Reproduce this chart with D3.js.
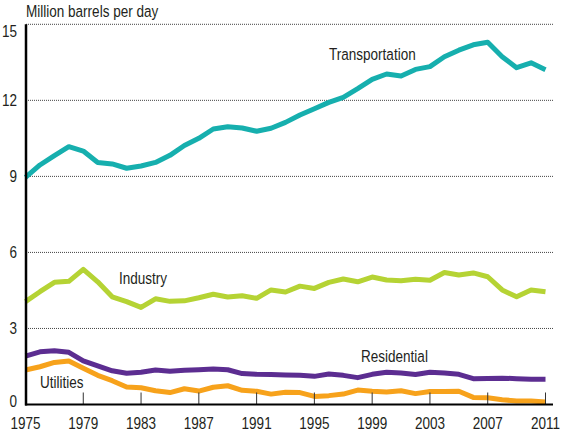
<!DOCTYPE html>
<html>
<head>
<meta charset="utf-8">
<script src="https://cdn.jsdelivr.net/npm/d3@7/dist/d3.min.js"></script>
<style>
  html, body { margin: 0; padding: 0; background: #fff; }
  svg text { font-family: "Liberation Sans", Arial, sans-serif; fill: #231f20; }
</style>
</head>
<body>
<svg id="chart" width="562" height="436"></svg>
<script>
// U.S. petroleum consumption by sector, million barrels per day
const years = d3.range(1975, 2012);

const transportation = [8.96, 9.45, 9.82, 10.17, 10.0, 9.55, 9.49, 9.32, 9.41, 9.55,
  9.83, 10.22, 10.5, 10.87, 10.96, 10.91, 10.78, 10.9, 11.13, 11.42,
  11.67, 11.92, 12.12, 12.46, 12.83, 13.04, 12.96, 13.22, 13.33, 13.72,
  13.98, 14.19, 14.29, 13.72, 13.29, 13.48, 13.21];

const industry = [4.06, 4.45, 4.82, 4.86, 5.33, 4.84, 4.25, 4.06, 3.83, 4.17,
  4.07, 4.09, 4.21, 4.35, 4.24, 4.29, 4.19, 4.52, 4.44, 4.67,
  4.58, 4.82, 4.95, 4.84, 5.03, 4.91, 4.88, 4.94, 4.9, 5.21,
  5.11, 5.19, 5.04, 4.52, 4.25, 4.52, 4.45];

const residential = [1.91, 2.08, 2.12, 2.06, 1.72, 1.52, 1.33, 1.23, 1.27, 1.36,
  1.31, 1.35, 1.37, 1.4, 1.37, 1.22, 1.19, 1.18, 1.16, 1.15,
  1.11, 1.2, 1.15, 1.06, 1.19, 1.27, 1.24, 1.18, 1.27, 1.24,
  1.19, 1.02, 1.03, 1.04, 1.02, 1.0, 1.0];

const utilities = [1.36, 1.49, 1.66, 1.72, 1.43, 1.15, 0.94, 0.69, 0.66, 0.54,
  0.47, 0.62, 0.53, 0.68, 0.74, 0.56, 0.52, 0.41, 0.48, 0.47,
  0.32, 0.35, 0.41, 0.57, 0.52, 0.49, 0.54, 0.43, 0.51, 0.51,
  0.52, 0.28, 0.27, 0.19, 0.14, 0.14, 0.1];

const yTicks = [0, 3, 6, 9, 12, 15];
const xTicks = [1975, 1979, 1983, 1987, 1991, 1995, 1999, 2003, 2007, 2011];

const series = [
  { name: "Utilities", values: utilities, color: "#f7a21b", label: [40, 388] },
  { name: "Residential", values: residential, color: "#5c2d91", label: [361, 362] },
  { name: "Industry", values: industry, color: "#b5d334", label: [119, 284] },
  { name: "Transportation", values: transportation, color: "#16afae", label: [329, 60] }
];

const svg = d3.select("#chart");
const left = 26, right = 553;
const fontSize = 16.5;
const narrow = 0.82; // horizontal condensing of all labels
const x = d3.scaleLinear().domain([1975, 2011]).range([25.5, 545.5]);
const y = d3.scaleLinear().domain([0, 15]).range([404.5, 24.3]);

// place a condensed text label with its anchor at (px, py)
function place(sel, px, py) {
  sel.attr("transform", (d, i) =>
    `translate(${typeof px === "function" ? px(d, i) : px},${typeof py === "function" ? py(d, i) : py}) scale(${narrow},1)`)
    .attr("font-size", fontSize);
  return sel;
}

// dotted horizontal gridlines
svg.append("g")
  .selectAll("line")
  .data(yTicks.filter(d => d > 0))
  .join("line")
  .attr("x1", left).attr("x2", right)
  .attr("y1", d => y(d)).attr("y2", d => y(d))
  .attr("stroke", "#444")
  .attr("stroke-width", 1)
  .attr("stroke-dasharray", "1,1");

// y tick labels
svg.append("g")
  .selectAll("text")
  .data(yTicks)
  .join("text")
  .attr("text-anchor", "end")
  .attr("dominant-baseline", "central")
  .call(place, 17, d => d === 15 ? y(d) + 6.5 : (d === 0 ? y(d) - 3.5 : y(d)))
  .text(d => d);

// series lines
const line = d3.line()
  .x((d, i) => x(years[i]))
  .y(d => y(d));

svg.append("g")
  .selectAll("path")
  .data(series)
  .join("path")
  .attr("d", d => line(d.values))
  .attr("fill", "none")
  .attr("stroke", d => d.color)
  .attr("stroke-width", 5)
  .attr("stroke-linejoin", "round");

// series labels
svg.append("g")
  .selectAll("text")
  .data(series)
  .join("text")
  .call(place, d => d.label[0], d => d.label[1])
  .text(d => d.name);

// x-axis tick marks (inside the plot)
svg.append("g")
  .selectAll("line")
  .data(xTicks.slice(1))
  .join("line")
  .attr("x1", d => x(d)).attr("x2", d => x(d))
  .attr("y1", y(0) - 12).attr("y2", y(0))
  .attr("stroke", "#333")
  .attr("stroke-width", 1);

// x tick labels
svg.append("g")
  .selectAll("text")
  .data(xTicks)
  .join("text")
  .attr("text-anchor", "middle")
  .call(place, d => x(d), 429)
  .text(d => d);

// axis lines
svg.append("line")
  .attr("x1", left).attr("x2", left)
  .attr("y1", y(15)).attr("y2", y(0) + 1)
  .attr("stroke", "#000").attr("stroke-width", 2.5);
svg.append("line")
  .attr("x1", left - 1).attr("x2", right)
  .attr("y1", y(0)).attr("y2", y(0))
  .attr("stroke", "#000").attr("stroke-width", 2);

// unit title
svg.append("text")
  .call(place, 26, 17)
  .text("Million barrels per day");
</script>
</body>
</html>
